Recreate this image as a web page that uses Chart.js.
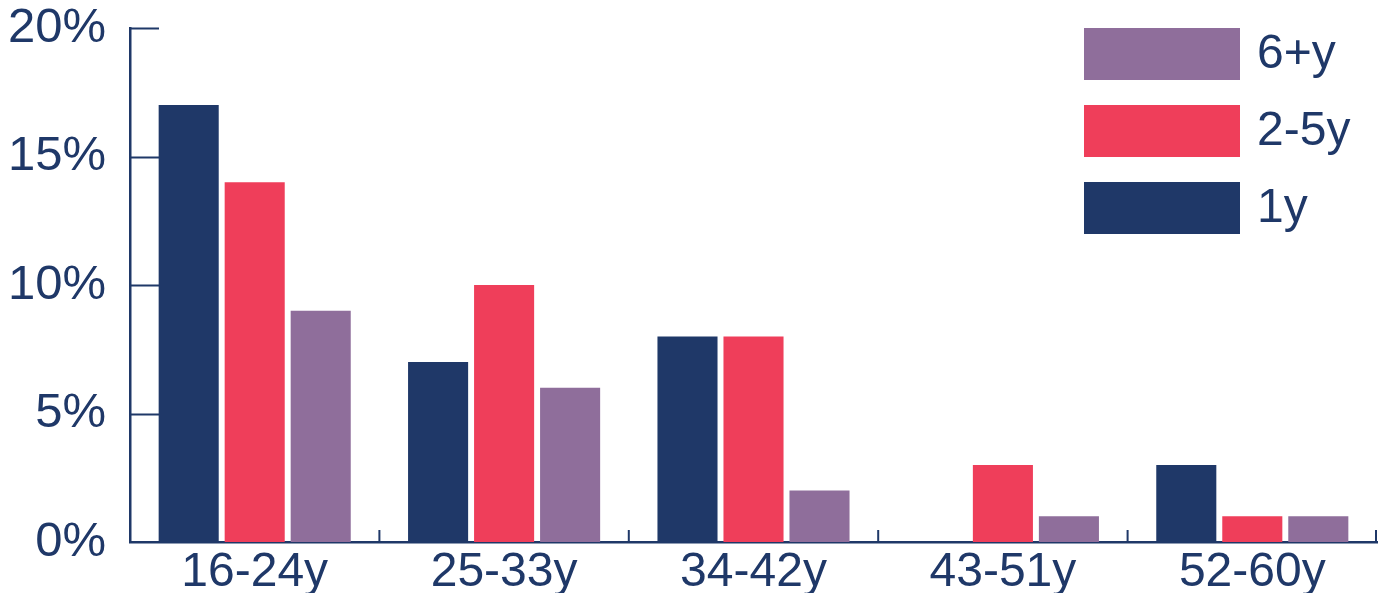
<!DOCTYPE html>
<html>
<head>
<meta charset="utf-8">
<script src="https://cdn.jsdelivr.net/npm/chart.js@4/dist/chart.umd.min.js"></script>
<style>
  html, body { margin: 0; padding: 0; background: #fff; }
  #wrap { width: 1386px; height: 593px; }
</style>
</head>
<body>
<div id="wrap"><canvas id="chart" width="1386" height="593"></canvas></div>
<script>
const ageGroups = ["16-24y", "25-33y", "34-42y", "43-51y", "52-60y"];
const oneYear = [17, 7, 8, 0, 3];
const twoToFive = [14, 10, 8, 3, 1];
const sixPlus = [9, 6, 2, 1, 1];
const yTicks = [0, 5, 10, 15, 20];

const NAVY = "#1f3868";
const RED = "#ef3e5a";
const PURPLE = "#8f6e9b";
const FONT = "'Liberation Sans', Arial, Helvetica, sans-serif";

// short axis ticks pointing into the plot, plus a legend box in the top right
const axisMarks = {
  id: "axisMarks",
  afterDatasetsDraw(chart) {
    const { ctx, chartArea, scales } = chart;
    const x = scales.x, y = scales.y;
    ctx.save();
    ctx.strokeStyle = NAVY;
    ctx.lineWidth = 2;
    ctx.beginPath();
    yTicks.forEach(v => {
      const py = Math.round(y.getPixelForValue(v)) + 0.5;
      if (v === 0) return;
      ctx.moveTo(chartArea.left, py);
      ctx.lineTo(chartArea.left + 29, py);
    });
    for (let i = 1; i <= ageGroups.length; i++) {
      const px = i < ageGroups.length
        ? (x.getPixelForValue(i - 1) + x.getPixelForValue(i)) / 2
        : chartArea.right - 1;
      ctx.moveTo(px, chartArea.bottom);
      ctx.lineTo(px, chartArea.bottom - 12);
    }
    ctx.stroke();

    // legend, listed top to bottom in reverse dataset order
    const sets = chart.data.datasets.slice().reverse();
    ctx.font = "48px " + FONT;
    ctx.textBaseline = "middle";
    sets.forEach((ds, i) => {
      const top = 28 + i * 77;
      ctx.fillStyle = ds.backgroundColor;
      ctx.fillRect(1084, top, 156, 52);
      ctx.fillStyle = NAVY;
      ctx.fillText(ds.label, 1257, top + 27);
    });
    ctx.restore();
  }
};

new Chart(document.getElementById("chart"), {
  type: "bar",
  data: {
    labels: ageGroups,
    datasets: [
      { label: "1y", data: oneYear, backgroundColor: NAVY },
      { label: "2-5y", data: twoToFive, backgroundColor: RED },
      { label: "6+y", data: sixPlus, backgroundColor: PURPLE }
    ]
  },
  options: {
    responsive: false,
    animation: false,
    categoryPercentage: 0.794,
    barPercentage: 0.91,
    layout: { padding: { left: 0, top: 28, right: 9, bottom: 0 } },
    plugins: {
      legend: { display: false },
      tooltip: { enabled: false }
    },
    scales: {
      x: {
        grid: { display: false, drawTicks: false },
        border: { display: true, color: NAVY, width: 2.5 },
        ticks: {
          color: NAVY,
          font: { family: FONT, size: 48 },
          padding: 2,
          maxRotation: 0
        },
        afterFit(scale) {
          scale.height = 51;
          scale.paddingLeft = 0;
          scale.paddingRight = 0;
        }
      },
      y: {
        min: 0,
        max: 20,
        grid: { display: false, drawTicks: false },
        border: { display: true, color: NAVY, width: 2.5 },
        ticks: {
          stepSize: 5,
          color: NAVY,
          font: { family: FONT, size: 49 },
          padding: 24,
          callback: v => v + "%"
        },
        afterFit(scale) {
          scale.width = 130;
          scale.paddingTop = 0;
          scale.paddingBottom = 0;
        }
      }
    }
  },
  plugins: [axisMarks]
});
</script>
</body>
</html>
